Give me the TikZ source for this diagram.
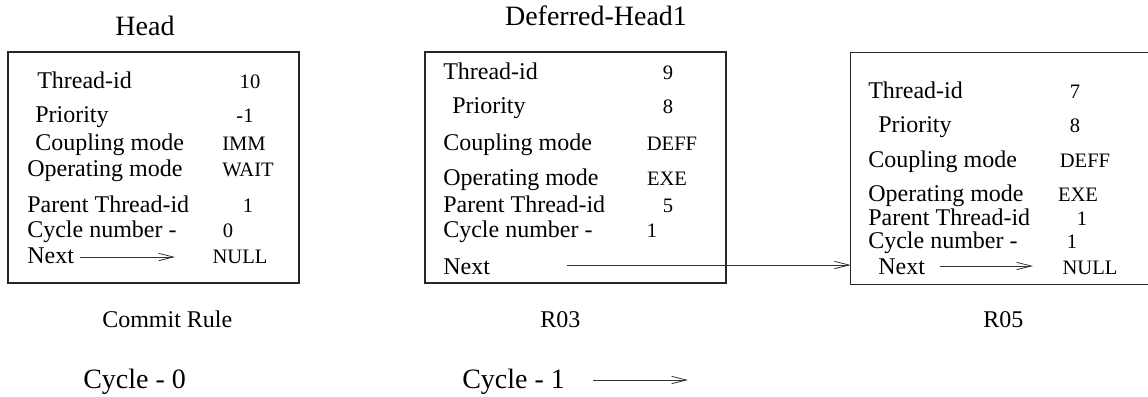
\documentclass[tikz,border=0pt]{standalone}
\usepackage{fontspec}
\setmainfont{Liberation Serif}
\usetikzlibrary{arrows.meta,fit}

\tikzset{
  boxline/.style={draw=black!85, line width=0.8pt},
  framebox/.style={boxline, inner sep=0pt},
  lbl/.style={anchor=base west, inner sep=0pt, font=\fontsize{18}{20}\selectfont},
  val/.style={anchor=base, inner sep=0pt, font=\fontsize{15.4}{17}\selectfont},
  ttl/.style={anchor=base, inner sep=0pt, font=\fontsize{21}{24}\selectfont},
  rulename/.style={anchor=base west, inner sep=0pt, font=\fontsize{18}{20}\selectfont},
  cyc/.style={anchor=base west, inner sep=0pt, font=\fontsize{21}{24}\selectfont},
  link/.style={draw=black!80, line width=0.6pt,
    -{Straight Barb[length=11pt,width=5.5pt,line width=0.6pt]}},
}

\begin{document}
\begin{tikzpicture}[x=0.75pt,y=-0.75pt]
\useasboundingbox (0,0) rectangle (1148,396);

% ---- Head ----
\node[ttl] (t1) at (145,35) {Head};
\node[framebox, fit={(8,52) (299,283)}] (b1) {};
\node[lbl] (b1l1) at (37,88)  {Thread-id};
\node[lbl] (b1l2) at (35,122) {Priority};
\node[lbl] (b1l3) at (35,150) {Coupling mode};
\node[lbl] (b1l4) at (27,176) {Operating mode};
\node[lbl] (b1l5) at (27,212) {Parent Thread-id};
\node[lbl] (b1l6) at (27,237) {Cycle number -};
\node[lbl] (b1l7) at (27,263) {Next};
\node[val] (b1v1) at (250,88)  {10};
\node[val] (b1v2) at (245,122) {-1};
\node[val] (b1v3) at (244,150) {IMM};
\node[val] (b1v4) at (248,176) {WAIT};
\node[val] (b1v5) at (248,212) {1};
\node[val] (b1v6) at (228,237) {0};
\node[val] (b1v7) at (240,263) {NULL};
\coordinate (b1a) at (80,257);
\coordinate (b1b) at (175,257);
\draw[link] (b1a) -- (b1b);

% ---- Deferred-Head1 ----
\node[ttl] (t2) at (596,26) {Deferred-Head1};
\node[framebox, fit={(425,52) (726,283)}] (b2) {};
\node[lbl] (b2l1) at (443,79)  {Thread-id};
\node[lbl] (b2l2) at (452,113) {Priority};
\node[lbl] (b2l3) at (443,150) {Coupling mode};
\node[lbl] (b2l4) at (443,185) {Operating mode};
\node[lbl] (b2l5) at (443,212) {Parent Thread-id};
\node[lbl] (b2l6) at (443,237) {Cycle number -};
\node[lbl] (b2l7) at (443,274) {Next};
\node[val] (b2v1) at (668,79)  {9};
\node[val] (b2v2) at (668,113) {8};
\node[val] (b2v3) at (672,150) {DEFF};
\node[val] (b2v4) at (667,185) {EXE};
\node[val] (b2v5) at (668,212) {5};
\node[val] (b2v6) at (652,237) {1};

% ---- third record (open on the right) ----
\node[inner sep=0pt, fit={(851,53) (1148,284)}] (b3) {};
\draw[boxline] (b3.north east) -- (b3.north west) -- (b3.south west) -- (b3.south east);
\node[lbl] (b3l1) at (868,98)  {Thread-id};
\node[lbl] (b3l2) at (878,132) {Priority};
\node[lbl] (b3l3) at (868,167) {Coupling mode};
\node[lbl] (b3l4) at (868,201) {Operating mode};
\node[lbl] (b3l5) at (868,225) {Parent Thread-id};
\node[lbl] (b3l6) at (868,248) {Cycle number -};
\node[lbl] (b3l7) at (878,274) {Next};
\node[val] (b3v1) at (1075,98)  {7};
\node[val] (b3v2) at (1075,132) {8};
\node[val] (b3v3) at (1085,167) {DEFF};
\node[val] (b3v4) at (1078,201) {EXE};
\node[val] (b3v5) at (1082,225) {1};
\node[val] (b3v6) at (1072,248) {1};
\node[val] (b3v7) at (1090,274) {NULL};
\coordinate (b3a) at (940,266);
\coordinate (b3b) at (1033,266);
\draw[link] (b3a) -- (b3b);

% link from Deferred-Head1's Next to the third record
\coordinate (n2) at (567,265);
\draw[link] (n2) -- (n2 -| b3.west);

% ---- rule names and cycles ----
\node[rulename] (r1) at (102,327) {Commit Rule};
\node[rulename] (r2) at (540,327) {R03};
\node[rulename] (r3) at (983,327) {R05};
\node[cyc] (c0) at (83,388) {Cycle - 0};
\node[cyc] (c1) at (462,388) {Cycle - 1};
\coordinate (c1a) at (593,380);
\coordinate (c1b) at (688,380);
\draw[link] (c1a) -- (c1b);
\end{tikzpicture}
\end{document}
